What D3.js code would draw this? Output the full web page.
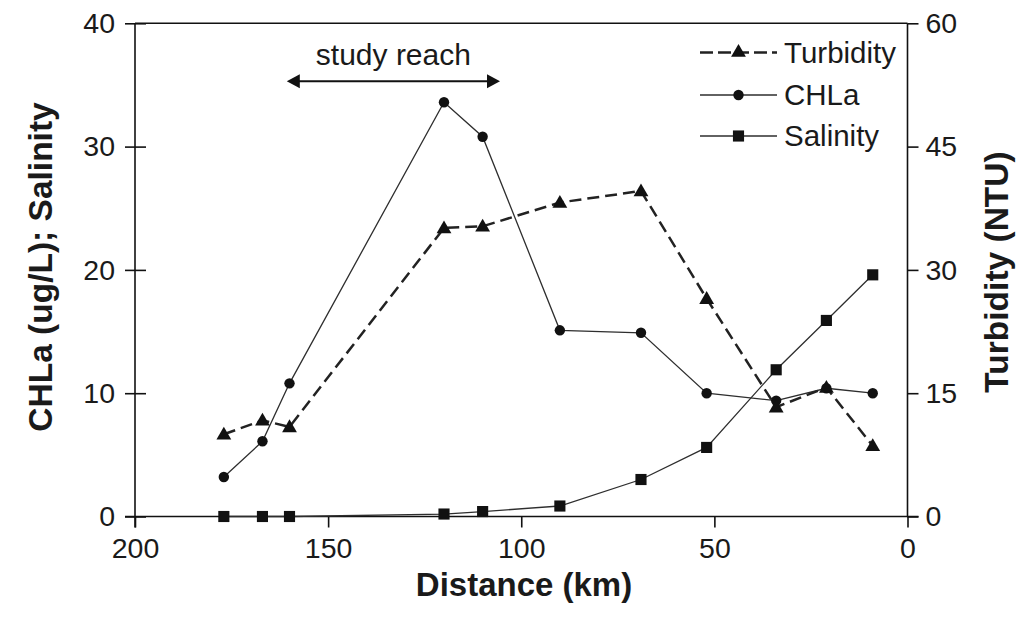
<!DOCTYPE html>
<html>
<head>
<meta charset="utf-8">
<script src="https://cdn.jsdelivr.net/npm/d3@7"></script>
<style>
  html, body { margin: 0; padding: 0; background: #fff; }
  svg { display: block; }
  text { font-family: "Liberation Sans", Arial, Helvetica, sans-serif; fill: #1a1a1a; }
</style>
</head>
<body>
<svg id="chart" width="1035" height="617"></svg>
<script>
// Sampling stations along the estuary (distance upstream, km)
const distanceKm = [177, 167, 160, 120, 110, 90, 69, 52, 34, 21, 9];
// Chlorophyll-a (ug/L), left axis
const chla = [3.2, 6.1, 10.8, 33.6, 30.8, 15.1, 14.9, 10.0, 9.4, 10.4, 10.0];
// Salinity, left axis
const salinity = [0, 0, 0, 0.2, 0.4, 0.85, 3.0, 5.6, 11.9, 15.9, 19.6];
// Turbidity (NTU), right axis
const turbidity = [10.0, 11.7, 10.9, 35.1, 35.3, 38.2, 39.6, 26.5, 13.3, 15.7, 8.6];

const xTicks = [200, 150, 100, 50, 0];
const yLeftTicks = [0, 10, 20, 30, 40];
const yRightTicks = [0, 15, 30, 45, 60];

// Extent of the study reach (km) and the level of its arrow on the left axis
const studyReach = [160.7, 105.5];
const studyReachLevel = 35.3;

const legendItems = ["Turbidity", "CHLa", "Salinity"];

const svg = d3.select("#chart");
const plotL = 135, plotR = 907.5, plotT = 23.3, plotB = 516.5;

const x = d3.scaleLinear().domain([200, 0]).range([plotL, plotR]);
const yL = d3.scaleLinear().domain([0, 40]).range([plotB, plotT]);
const yR = d3.scaleLinear().domain([0, 60]).range([plotB, plotT]);

const ink = "#111";
const thin = "#2e2e2e";
const tickFont = "28.5px";

// Top frame line
svg.append("line")
  .attr("x1", plotL).attr("x2", plotR)
  .attr("y1", plotT).attr("y2", plotT)
  .attr("stroke", ink).attr("stroke-width", 1.6);

// Bottom axis
const gx = svg.append("g").attr("transform", `translate(0,${plotB})`)
  .call(d3.axisBottom(x).tickValues(xTicks).tickSize(11).tickPadding(10).tickSizeOuter(0));
gx.select(".domain").attr("stroke", ink).attr("stroke-width", 1.6)
  .attr("d", `M${plotL - 10},0H${plotR + 11}`);
gx.selectAll(".tick line").attr("stroke", ink).attr("stroke-width", 1.6);
gx.selectAll(".tick text").style("font-size", tickFont).attr("fill", "#1a1a1a");

// Left axis (ticks cross the axis line)
const gl = svg.append("g").attr("transform", `translate(${plotL},0)`)
  .call(d3.axisLeft(yL).tickValues(yLeftTicks).tickSize(10).tickPadding(10).tickSizeOuter(0));
gl.select(".domain").attr("stroke", ink).attr("stroke-width", 1.6)
  .attr("d", `M0,${plotT}V${plotB + 11}`);
gl.selectAll(".tick line").attr("stroke", ink).attr("stroke-width", 1.6).attr("x1", 11);
gl.selectAll(".tick text").style("font-size", tickFont).attr("fill", "#1a1a1a");

// Right axis
const gr = svg.append("g").attr("transform", `translate(${plotR},0)`)
  .call(d3.axisRight(yR).tickValues(yRightTicks).tickSize(11).tickPadding(7).tickSizeOuter(0));
gr.select(".domain").attr("stroke", ink).attr("stroke-width", 1.6)
  .attr("d", `M0,${plotT}V${plotB}`);
gr.selectAll(".tick line").attr("stroke", ink).attr("stroke-width", 1.6);
gr.selectAll(".tick text").style("font-size", tickFont).attr("fill", "#1a1a1a");

// Axis titles
svg.append("text")
  .attr("x", 524).attr("y", 596)
  .attr("text-anchor", "middle")
  .style("font-size", "33px").style("font-weight", "bold")
  .text("Distance (km)");

svg.append("text")
  .attr("transform", "translate(40,267) rotate(-90)")
  .attr("text-anchor", "middle").attr("dy", "0.35em")
  .style("font-size", "33.5px").style("font-weight", "bold")
  .text("CHLa (ug/L); Salinity");

svg.append("text")
  .attr("transform", "translate(996,272) rotate(-90)")
  .attr("text-anchor", "middle").attr("dy", "0.35em")
  .style("font-size", "33.5px").style("font-weight", "bold")
  .text("Turbidity (NTU)");

// Series
const rows = distanceKm.map((d, i) => ({ d, chla: chla[i], sal: salinity[i], turb: turbidity[i] }));

const lineChla = d3.line().x(r => x(r.d)).y(r => yL(r.chla));
const lineSal = d3.line().x(r => x(r.d)).y(r => yL(r.sal));
const lineTurb = d3.line().x(r => x(r.d)).y(r => yR(r.turb));

svg.append("path").datum(rows).attr("d", lineSal)
  .attr("fill", "none").attr("stroke", thin).attr("stroke-width", 1.3);
svg.append("path").datum(rows).attr("d", lineChla)
  .attr("fill", "none").attr("stroke", thin).attr("stroke-width", 1.3);
svg.append("path").datum(rows).attr("d", lineTurb)
  .attr("fill", "none").attr("stroke", "#222").attr("stroke-width", 2.5)
  .attr("stroke-dasharray", "12,6");

const sym = {
  tri: d3.symbol().type(d3.symbolTriangle).size(95),
  circle: d3.symbol().type(d3.symbolCircle).size(85),
  square: d3.symbol().type(d3.symbolSquare).size(124)
};

svg.append("g").selectAll("path").data(rows).join("path")
  .attr("transform", r => `translate(${x(r.d)},${yL(r.sal)})`)
  .attr("d", sym.square()).attr("fill", ink);
svg.append("g").selectAll("path").data(rows).join("path")
  .attr("transform", r => `translate(${x(r.d)},${yL(r.chla)})`)
  .attr("d", sym.circle()).attr("fill", ink);
svg.append("g").selectAll("path").data(rows).join("path")
  .attr("transform", r => `translate(${x(r.d)},${yR(r.turb) + 1})`)
  .attr("d", sym.tri()).attr("fill", ink);

// Study reach double-headed arrow
const ax1 = x(studyReach[0]), ax2 = x(studyReach[1]), ay = yL(studyReachLevel);
svg.append("line")
  .attr("x1", ax1 + 8).attr("x2", ax2 - 8).attr("y1", ay).attr("y2", ay)
  .attr("stroke", ink).attr("stroke-width", 2);
svg.append("path")
  .attr("d", `M${ax1},${ay}L${ax1 + 13},${ay - 7}L${ax1 + 13},${ay + 7}Z`)
  .attr("fill", ink);
svg.append("path")
  .attr("d", `M${ax2},${ay}L${ax2 - 13},${ay - 7}L${ax2 - 13},${ay + 7}Z`)
  .attr("fill", ink);
svg.append("text")
  .attr("x", (ax1 + ax2) / 2).attr("y", 65)
  .attr("text-anchor", "middle")
  .style("font-size", "30px")
  .text("study reach");

// Legend
const lg = svg.append("g");
const lx1 = 700, lx2 = 777, lm = 738.5;
const ly = [52.5, 95, 136];
legendItems.forEach((name, i) => {
  const yy = ly[i];
  lg.append("line")
    .attr("x1", lx1).attr("x2", lx2).attr("y1", yy).attr("y2", yy)
    .attr("stroke", i === 0 ? "#222" : thin)
    .attr("stroke-width", i === 0 ? 2.5 : 1.3)
    .attr("stroke-dasharray", i === 0 ? "13,5" : null);
  const s = i === 0 ? sym.tri : i === 1 ? sym.circle : sym.square;
  lg.append("path")
    .attr("transform", `translate(${lm},${yy})`)
    .attr("d", s()).attr("fill", ink);
  lg.append("text")
    .attr("x", 784).attr("y", yy).attr("dy", "0.35em")
    .style("font-size", "29.5px")
    .text(name);
});
</script>
</body>
</html>
